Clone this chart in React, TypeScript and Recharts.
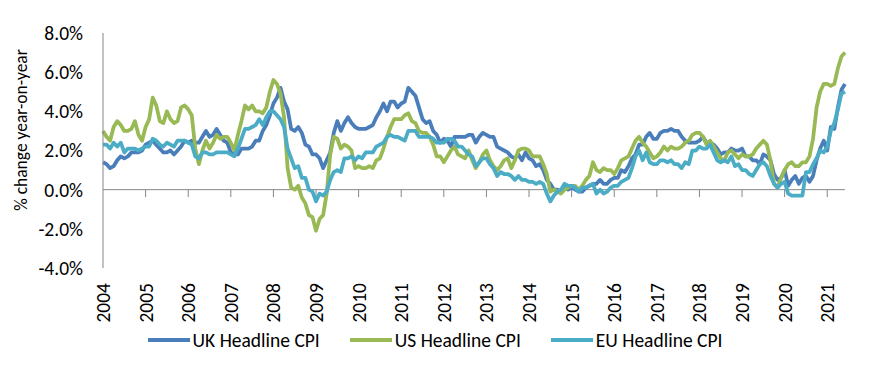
import {
  Label,
  Legend,
  Line,
  LineChart,
  ReferenceLine,
  XAxis,
  YAxis,
} from "recharts";

// Monthly year-on-year CPI, Jul 2004 .. Dec 2021 (one row per calendar year)
const ukCpi = [
  1.4, 1.3, 1.1, 1.2, 1.5, 1.7,
  1.6, 1.7, 1.9, 1.9, 1.9, 2.0, 2.3, 2.4, 2.5, 2.3, 2.1, 1.9,
  1.9, 2.0, 1.8, 2.0, 2.2, 2.5, 2.4, 2.5, 2.4, 2.4, 2.7, 3.0,
  2.7, 2.8, 3.1, 2.8, 2.5, 2.4, 1.9, 1.8, 1.8, 2.1, 2.1, 2.1,
  2.2, 2.5, 2.5, 3.0, 3.3, 3.8, 4.4, 4.7, 5.2, 4.5, 4.1, 3.1,
  3.0, 3.2, 2.9, 2.3, 2.2, 1.8, 1.8, 1.6, 1.1, 1.5, 1.9, 2.9,
  3.5, 3.0, 3.4, 3.7, 3.4, 3.2, 3.1, 3.1, 3.1, 3.2, 3.3, 3.7,
  4.0, 4.4, 4.0, 4.5, 4.5, 4.2, 4.4, 4.5, 5.2, 5.0, 4.8, 4.2,
  3.6, 3.4, 3.5, 3.0, 2.8, 2.4, 2.6, 2.5, 2.2, 2.7, 2.7, 2.7,
  2.7, 2.8, 2.8, 2.4, 2.7, 2.9, 2.8, 2.7, 2.7, 2.2, 2.1, 2.0,
  1.9, 1.7, 1.6, 1.8, 1.5, 1.9, 1.6, 1.5, 1.2, 1.3, 1.0, 0.5,
  0.3, 0.0, 0.0, -0.1, 0.1, 0.0, 0.1, 0.0, -0.1, -0.1, 0.1, 0.2,
  0.3, 0.3, 0.5, 0.3, 0.3, 0.5, 0.6, 0.6, 1.0, 0.9, 1.2, 1.6,
  1.8, 2.3, 2.3, 2.7, 2.9, 2.6, 2.6, 2.9, 3.0, 3.0, 3.1, 3.0,
  3.0, 2.7, 2.5, 2.4, 2.4, 2.4, 2.5, 2.7, 2.4, 2.4, 2.3, 2.1,
  1.8, 1.9, 1.9, 2.1, 2.0, 2.0, 2.1, 1.7, 1.7, 1.5, 1.5, 1.3,
  1.8, 1.7, 1.5, 0.8, 0.5, 0.6, 1.0, 0.2, 0.5, 0.7, 0.3, 0.6,
  0.7, 0.4, 0.7, 1.5, 2.1, 2.5, 2.0, 3.2, 3.1, 4.2, 5.1, 5.4,
];

const usCpi = [
  3.0, 2.7, 2.5, 3.2, 3.5, 3.3,
  3.0, 3.0, 3.1, 3.5, 2.8, 2.5, 3.2, 3.6, 4.7, 4.3, 3.5, 3.4,
  4.0, 3.6, 3.4, 3.5, 4.2, 4.3, 4.1, 3.8, 2.1, 1.3, 2.0, 2.5,
  2.1, 2.4, 2.8, 2.6, 2.7, 2.7, 2.4, 2.0, 2.8, 3.5, 4.3, 4.1,
  4.3, 4.0, 4.0, 3.9, 4.2, 5.0, 5.6, 5.4, 4.9, 3.7, 1.1, 0.1,
  0.0, 0.2, -0.4, -0.7, -1.3, -1.4, -2.1, -1.5, -1.3, -0.2, 1.8, 2.7,
  2.6, 2.1, 2.3, 2.2, 2.0, 1.1, 1.2, 1.1, 1.1, 1.2, 1.1, 1.5,
  1.6, 2.1, 2.7, 3.2, 3.6, 3.6, 3.6, 3.8, 3.9, 3.5, 3.4, 3.0,
  2.9, 2.9, 2.7, 2.3, 1.7, 1.7, 1.4, 1.7, 2.0, 2.2, 1.8, 1.7,
  1.6, 2.0, 1.5, 1.1, 1.4, 1.8, 2.0, 1.5, 1.2, 1.0, 1.2, 1.5,
  1.6, 1.1, 1.5, 2.0, 2.1, 2.1, 2.0, 1.7, 1.7, 1.7, 1.3, 0.8,
  -0.1, 0.0, -0.1, -0.2, 0.0, 0.1, 0.2, 0.2, 0.0, 0.2, 0.5, 0.7,
  1.4, 1.0, 0.9, 1.1, 1.0, 1.0, 0.8, 1.1, 1.5, 1.6, 1.7, 2.1,
  2.5, 2.7, 2.4, 2.2, 1.9, 1.6, 1.7, 1.9, 2.2, 2.0, 2.2, 2.1,
  2.1, 2.2, 2.4, 2.5, 2.8, 2.9, 2.9, 2.7, 2.3, 2.5, 2.2, 1.9,
  1.6, 1.5, 1.9, 2.0, 1.8, 1.6, 1.8, 1.7, 1.7, 1.8, 2.1, 2.3,
  2.5, 2.3, 1.5, 0.3, 0.1, 0.6, 1.0, 1.3, 1.4, 1.2, 1.2, 1.4,
  1.4, 1.7, 2.6, 4.2, 5.0, 5.4, 5.4, 5.3, 5.4, 6.2, 6.8, 7.0,
];

const euCpi = [
  2.3, 2.3, 2.1, 2.4, 2.2, 2.4,
  1.9, 2.1, 2.1, 2.1, 2.0, 2.1, 2.2, 2.2, 2.6, 2.5, 2.3, 2.2,
  2.4, 2.3, 2.2, 2.5, 2.5, 2.5, 2.4, 2.3, 1.7, 1.6, 1.9, 1.9,
  1.8, 1.8, 1.9, 1.9, 1.9, 1.9, 1.8, 1.7, 2.1, 2.6, 3.1, 3.1,
  3.2, 3.3, 3.6, 3.3, 3.7, 4.0, 4.0, 3.8, 3.6, 3.2, 2.1, 1.6,
  1.1, 1.2, 0.6, 0.6, 0.0, -0.1, -0.6, -0.2, -0.3, -0.1, 0.5, 0.9,
  1.0, 0.9, 1.6, 1.6, 1.7, 1.5, 1.7, 1.6, 1.9, 1.9, 1.9, 2.2,
  2.3, 2.4, 2.7, 2.8, 2.7, 2.7, 2.6, 2.5, 3.0, 3.0, 3.0, 2.7,
  2.7, 2.7, 2.7, 2.6, 2.4, 2.4, 2.4, 2.6, 2.6, 2.5, 2.2, 2.2,
  2.0, 1.8, 1.7, 1.2, 1.4, 1.6, 1.6, 1.3, 1.1, 0.7, 0.9, 0.8,
  0.8, 0.7, 0.5, 0.7, 0.5, 0.5, 0.4, 0.4, 0.3, 0.4, 0.3, -0.2,
  -0.6, -0.3, -0.1, 0.0, 0.3, 0.2, 0.2, 0.1, -0.1, 0.1, 0.1, 0.2,
  0.3, -0.2, 0.0, -0.2, -0.1, 0.1, 0.2, 0.2, 0.4, 0.5, 0.6, 1.1,
  1.7, 2.0, 1.5, 1.9, 1.4, 1.3, 1.3, 1.5, 1.5, 1.4, 1.5, 1.3,
  1.3, 1.1, 1.4, 1.3, 2.0, 2.0, 2.2, 2.1, 2.1, 2.3, 1.9, 1.5,
  1.4, 1.5, 1.4, 1.7, 1.2, 1.3, 1.0, 1.0, 0.8, 0.7, 1.0, 1.3,
  1.4, 1.2, 0.7, 0.3, 0.1, 0.3, 0.4, -0.2, -0.3, -0.3, -0.3, -0.3,
  0.9, 0.9, 1.3, 1.6, 2.0, 1.9, 2.2, 3.0, 3.4, 4.1, 4.9, 5.0,
];

const yearLabels = [
  "2004", "2005", "2006", "2007", "2008", "2009", "2010", "2011", "2012",
  "2013", "2014", "2015", "2016", "2017", "2018", "2019", "2020", "2021",
];

const yTicks = [-4, -2, 0, 2, 4, 6, 8];

const SERIES = [
  { key: "uk", name: "UK Headline CPI", color: "#4A7EBB" },
  { key: "us", name: "US Headline CPI", color: "#98B954" },
  { key: "eu", name: "EU Headline CPI", color: "#4BACC6" },
];

const FONT = "Calibri, Carlito, Lato, sans-serif";
const AXIS_GREY = "#868686";

const data = ukCpi.map((uk, i) => ({ i, uk, us: usCpi[i], eu: euCpi[i] }));
const yearTicks = yearLabels.map((_, k) => k * 12);

function YearTick({ x, y, payload }: any) {
  const label = yearLabels[Math.round(payload.value / 12)];
  return (
    <text
      x={x}
      y={y}
      dy="0.36em"
      textAnchor="end"
      transform={`rotate(-90, ${x}, ${y})`}
      fill="#000"
      fontSize={19.5}
      fontFamily={FONT}
    >
      {label}
    </text>
  );
}

function LegendBox() {
  return (
    <div
      style={{
        display: "flex",
        justifyContent: "center",
        alignItems: "center",
        gap: 30,
        fontFamily: FONT,
        fontSize: 19.5,
        color: "#000",
        lineHeight: "20px",
      }}
    >
      {SERIES.map((s) => (
        <div key={s.key} style={{ display: "flex", alignItems: "center" }}>
          <svg width={42} height={6}>
            <line x1={0} y1={3} x2={42} y2={3} stroke={s.color} strokeWidth={4} />
          </svg>
          <span style={{ marginLeft: 3 }}>{s.name}</span>
        </div>
      ))}
    </div>
  );
}

export default function App() {
  return (
    <div
      style={{
        position: "absolute",
        left: 0,
        top: 0,
        width: 870,
        height: 368,
        background: "#fff",
      }}
    >
      <LineChart
        width={870}
        height={368}
        data={data}
        margin={{ top: 33, right: 25, bottom: 0, left: 0 }}
      >
        <XAxis
          dataKey="i"
          type="number"
          domain={[0, 209]}
          ticks={yearTicks}
          interval={0}
          axisLine={false}
          tickLine={false}
          tickSize={0}
          tickMargin={15}
          height={100}
          tick={<YearTick />}
        />
        <YAxis
          domain={[-4, 8]}
          ticks={yTicks}
          width={103}
          stroke={AXIS_GREY}
          tickLine={false}
          tickSize={6}
          tickMargin={14}
          tickFormatter={(v: number) => `${v.toFixed(1)}%`}
          tick={{ fill: "#000", fontSize: 19.5, fontFamily: FONT }}
        >
          <Label
            content={() => (
              <text
                x={21}
                y={130}
                transform="rotate(-90, 21, 130)"
                textAnchor="middle"
                dominantBaseline="central"
                fill="#000"
                fontSize={17.5}
                fontFamily={FONT}
              >
                % change year-on-year
              </text>
            )}
          />
        </YAxis>
        <ReferenceLine y={0} stroke={AXIS_GREY} strokeWidth={1} />
        {yearTicks.slice(1).map((t) => (
          <ReferenceLine
            key={t}
            segment={[
              { x: t, y: 0 },
              { x: t, y: -0.38 },
            ]}
            stroke={AXIS_GREY}
            strokeWidth={1}
          />
        ))}
        <Legend
          verticalAlign="middle"
          align="center"
          layout="horizontal"
          wrapperStyle={{ top: 330, left: 0, width: 870 }}
          content={() => <LegendBox />}
        />
        {SERIES.map((s) => (
          <Line
            key={s.key}
            type="linear"
            dataKey={s.key}
            name={s.name}
            stroke={s.color}
            strokeWidth={3.75}
            strokeLinejoin="round"
            dot={false}
            activeDot={false}
            isAnimationActive={false}
          />
        ))}
      </LineChart>
    </div>
  );
}
